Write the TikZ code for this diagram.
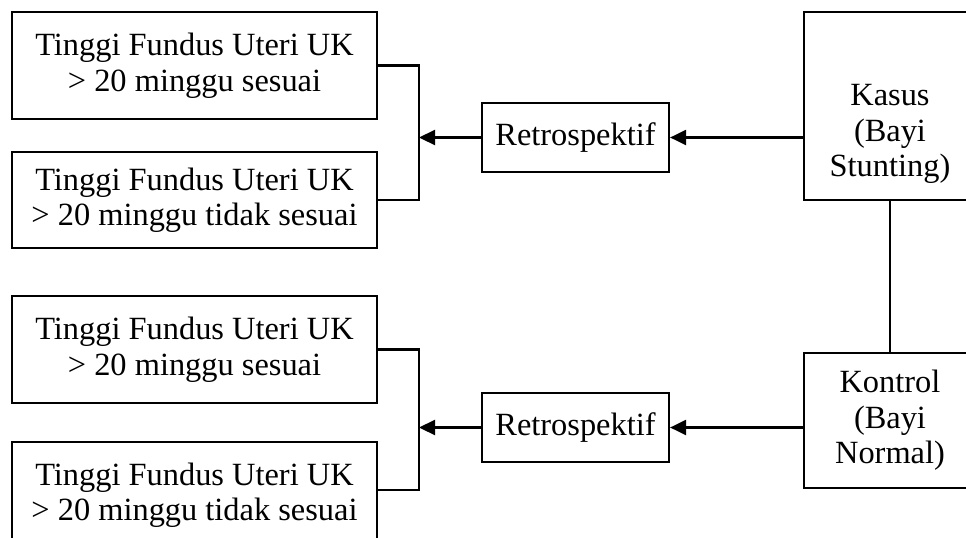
\documentclass[tikz,border=0pt]{standalone}
\usepackage{fontspec}
\setmainfont{Liberation Serif}
\usetikzlibrary{positioning, arrows.meta}

\begin{document}
\begin{tikzpicture}[x=0.5pt, y=-0.5pt,
		line width=1.1pt,
		box/.style={draw, rectangle, align=center, inner sep=0pt},
		ukbox/.style={box, minimum width=182.5pt},
		arr/.style={-{Triangle[length=8pt,width=7.5pt]}},
		font=\fontsize{16.2}{17.75}\selectfont]
			\clip (0,0) rectangle (966,537);
			% kelompok kasus
			\node[ukbox, minimum height=53.5pt] (uk1) at (194.5,65.5) {Tinggi Fundus Uteri UK\\> 20 minggu sesuai};
			\node[ukbox, minimum height=48pt] (uk2) at (194.5,200) {Tinggi Fundus Uteri UK\\> 20 minggu tidak sesuai};
			\node[box, minimum width=93.5pt, minimum height=34.5pt] (retro1) at (575.5,137.5) {Retrospektif};
			\node[box, minimum width=86pt, minimum height=94pt] (kasus) at (890,106) {};
			\node[align=center] (kasustext) at (890,134) {Kasus\\(Bayi\\Stunting)};
			% kelompok kontrol
			\node[ukbox, minimum height=53.5pt] (uk3) at (194.5,349.5) {Tinggi Fundus Uteri UK\\> 20 minggu sesuai};
			\node[ukbox, minimum height=53pt] (uk4) at (194.5,495) {Tinggi Fundus Uteri UK\\> 20 minggu tidak sesuai};
			\node[box, minimum width=93.5pt, minimum height=34.5pt] (retro2) at (575.5,427.5) {Retrospektif};
			\node[box, minimum width=86pt, minimum height=67.5pt] (kontrol) at (890,420.5) {Kontrol\\(Bayi\\Normal)};
			% garis
			\coordinate (j1) at (419,137.5);
			\coordinate (j2) at (419,427.5);
			\draw (uk1.east) -| (j1) |- (uk2.east);
			\draw (uk3.east) -| (j2) |- ([yshift=2.5pt]uk4.east);
			\draw[arr] (retro1.west) -- (j1);
			\draw[arr] (retro2.west) -- (j2);
			\draw[arr] (kasus.west |- retro1.east) -- (retro1.east);
			\draw[arr] (kontrol.west |- retro2.east) -- (retro2.east);
			\draw (kasus.south) -- (kontrol.north);
		\end{tikzpicture}
\end{document}
